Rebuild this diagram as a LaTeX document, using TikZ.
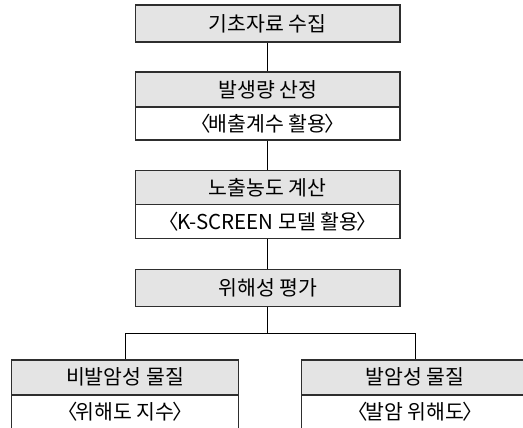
\documentclass[tikz,border=0pt]{standalone}
\usepackage{fontspec}
\setmainfont{Noto Sans CJK KR}
\definecolor{hdrgray}{HTML}{E4E4E4}
\definecolor{edgegray}{HTML}{2E2E2E}
\newcommand{\lbr}{〈\kern-0.1em}
\newcommand{\rbr}{\kern-0.1em〉}
\begin{document}
\begin{tikzpicture}[x=1pt,y=-1pt,
  boxfont/.style={font=\fontsize{20.5}{23}\selectfont},
  boxbase/.style={boxfont,draw=edgegray,line width=1.1pt,inner sep=0pt,anchor=center},
  hdr/.style={boxbase,fill=hdrgray},
  sub/.style={boxbase,fill=white},
  link/.style={draw=black,line width=1pt}]
\useasboundingbox (0,0) rectangle (523,428);
\clip (0,0) rectangle (523,428);
% main column
\node[hdr,minimum width=264.5pt,minimum height=37pt] (b1) at (267.75,23.5) {기초자료 수집};
\node[hdr,minimum width=264.5pt,minimum height=35pt] (b2h) at (267.75,89.5) {발생량 산정};
\node[sub,minimum width=264.5pt,minimum height=33pt] (b2s) at (267.75,123.5) {\lbr 배출계수 활용\rbr};
\node[hdr,minimum width=264.5pt,minimum height=34pt] (b3h) at (267.75,187.7) {노출농도 계산};
\node[sub,minimum width=264.5pt,minimum height=33.6pt] (b3s) at (267.75,221.5) {\lbr K-SCREEN 모델 활용\rbr};
\node[hdr,minimum width=264.5pt,minimum height=36.7pt] (b4) at (267.75,287.7) {위해성 평가};
% bottom boxes
\node[hdr,minimum width=226.6pt,minimum height=34.5pt] (blh) at (125,377.2) {비발암성 물질};
\node[sub,minimum width=226.6pt,minimum height=36pt,anchor=north] (bls) at (125,394.5) {};
\node[boxfont,inner sep=0pt] (blt) at (125,411.5) {\lbr 위해도 지수\rbr};
\node[hdr,minimum width=226.6pt,minimum height=34.5pt] (brh) at (415,377.2) {발암성 물질};
\node[sub,minimum width=226.6pt,minimum height=36pt,anchor=north] (brs) at (415,394.5) {};
\node[boxfont,inner sep=0pt] (brt) at (415,411.5) {\lbr 발암 위해도\rbr};
% connectors
\coordinate (j) at (267.75,333.3);
\draw[link] (b1.south) -- (b2h.north);
\draw[link] (b2s.south) -- (b3h.north);
\draw[link] (b3s.south) -- (b4.north);
\draw[link] (b4.south) -- (j);
\draw[link] (blh.north) |- (j) -| (brh.north);
\end{tikzpicture}
\end{document}
